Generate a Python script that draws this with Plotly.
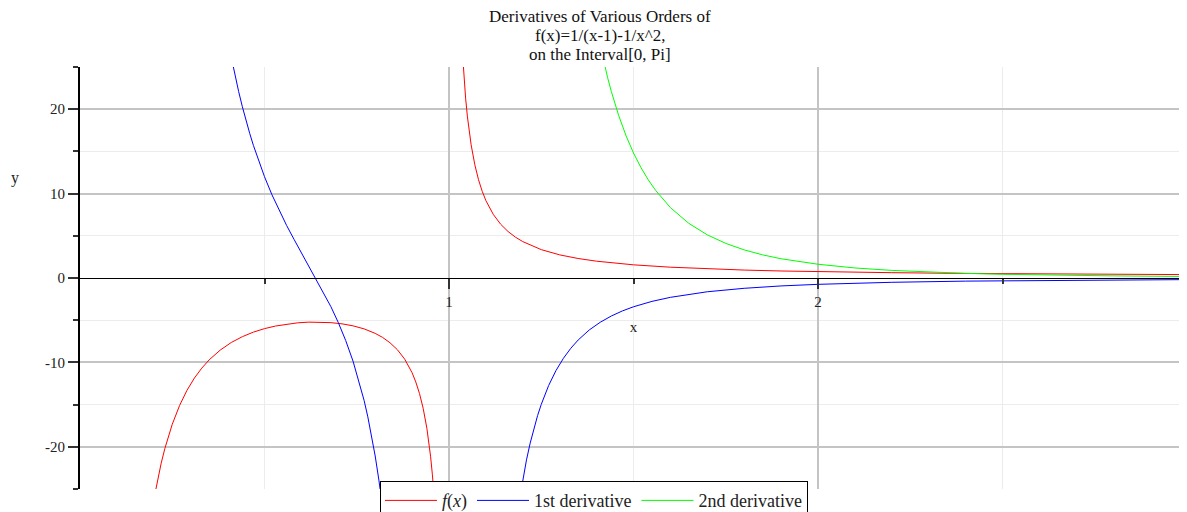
import plotly.graph_objects as go

# ---- data ----
f_left_x = [0.200, 0.205, 0.21, 0.22, 0.23, 0.24, 0.25, 0.27, 0.29, 0.31, 0.33, 0.35, 0.38, 0.41,
            0.44, 0.47, 0.50, 0.53, 0.56, 0.59, 0.62, 0.65, 0.68, 0.71, 0.74, 0.77, 0.80, 0.82,
            0.84, 0.86, 0.88, 0.90, 0.91, 0.92, 0.93, 0.94, 0.945, 0.95, 0.955, 0.958, 0.96]
f_left_y = [-26.25, -25.05, -23.94, -21.94, -20.20, -18.68, -17.33, -15.09, -13.30, -11.86, -10.68,
            -9.70, -8.54, -7.64, -6.95, -6.41, -6.00, -5.69, -5.46, -5.31, -5.23, -5.22, -5.29,
            -5.43, -5.67, -6.03, -6.56, -7.04, -7.67, -8.49, -9.62, -11.23, -12.32, -13.68,
            -15.44, -17.80, -19.30, -21.11, -23.32, -24.90, -26.09]
f_right_x = [1.035, 1.04, 1.045, 1.05, 1.06, 1.07, 1.08, 1.09, 1.10, 1.12, 1.14, 1.16, 1.18, 1.20,
             1.25, 1.30, 1.35, 1.40, 1.50, 1.60, 1.70, 1.80, 1.90, 2.00, 2.20, 2.40, 2.60, 2.80,
             3.00, 3.1416]
f_right_y = [27.64, 24.08, 21.31, 19.09, 15.78, 13.41, 11.64, 10.27, 9.17, 7.54, 6.37, 5.51, 4.84,
             4.31, 3.36, 2.74, 2.31, 1.99, 1.56, 1.28, 1.08, 0.94, 0.83, 0.75, 0.63, 0.54, 0.48,
             0.43, 0.39, 0.37]

d1_left_x = [0.41, 0.415, 0.42, 0.43, 0.44, 0.45, 0.46, 0.47, 0.48, 0.49, 0.50, 0.52, 0.54, 0.56,
             0.58, 0.60, 0.62, 0.64, 0.66, 0.68, 0.70, 0.72, 0.74, 0.76, 0.77, 0.78, 0.79, 0.80,
             0.81, 0.815, 0.82]
d1_left_y = [26.15, 25.06, 24.02, 22.08, 20.29, 18.64, 17.12, 15.70, 14.39, 13.16, 12.00, 9.88,
             7.98, 6.22, 4.58, 3.01, 1.47, -0.09, -1.69, -3.40, -5.28, -7.40, -9.86, -12.81,
             -14.52, -16.45, -18.62, -21.09, -23.94, -25.52, -27.24]
d1_right_x = [1.19, 1.195, 1.20, 1.21, 1.22, 1.23, 1.24, 1.25, 1.27, 1.29, 1.31, 1.33, 1.35, 1.38,
              1.41, 1.44, 1.47, 1.50, 1.55, 1.60, 1.65, 1.70, 1.80, 1.90, 2.00, 2.20, 2.40, 2.60,
              2.80, 3.00, 3.1416]
d1_right_y = [-26.51, -25.13, -23.84, -21.55, -19.56, -17.83, -16.31, -14.98, -12.74, -10.96,
              -9.52, -8.33, -7.35, -6.16, -5.24, -4.50, -3.90, -3.41, -2.77, -2.29, -1.92, -1.63,
              -1.22, -0.94, -0.75, -0.51, -0.37, -0.28, -0.22, -0.18, -0.15]

d2_right_x = [1.41, 1.42, 1.43, 1.44, 1.45, 1.46, 1.48, 1.50, 1.52, 1.54, 1.56, 1.58, 1.60, 1.65,
              1.70, 1.75, 1.80, 1.85, 1.90, 2.00, 2.10, 2.20, 2.30, 2.40, 2.50, 2.60, 2.80, 3.00,
              3.1416]
d2_right_y = [27.50, 25.52, 23.72, 22.08, 20.59, 19.23, 16.83, 14.81, 13.10, 11.63, 10.38, 9.29,
              8.34, 6.47, 5.11, 4.10, 3.33, 2.74, 2.28, 1.63, 1.19, 0.90, 0.70, 0.55, 0.44, 0.36,
              0.25, 0.18, 0.14]

y_ticks = [-20, -10, 0, 10, 20]
y_tick_labels = ["-20", "-10", "0", "10", "20"]
x_ticks = [1, 2, 3]
x_tick_labels = ["1", "2", "3"]

title_lines = ["Derivatives of Various Orders of", "f(x)=1/(x-1)-1/x^2,", "on the Interval[0, Pi]"]
names = ["<i>f</i>(<i>x</i>)", "1st derivative", "2nd derivative"]
colors = ["#ff0000", "#0000ff", "#00ff00"]

SERIF = "Liberation Serif, Times New Roman, serif"

fig = go.Figure()
fig.add_trace(go.Scatter(x=f_left_x, y=f_left_y, mode="lines", line=dict(color=colors[0], width=1),
                         name=names[0], legendgroup="f"))
fig.add_trace(go.Scatter(x=f_right_x, y=f_right_y, mode="lines", line=dict(color=colors[0], width=1),
                         name=names[0], legendgroup="f", showlegend=False))
fig.add_trace(go.Scatter(x=d1_left_x, y=d1_left_y, mode="lines", line=dict(color=colors[1], width=1),
                         name=names[1], legendgroup="d1"))
fig.add_trace(go.Scatter(x=d1_right_x, y=d1_right_y, mode="lines", line=dict(color=colors[1], width=1),
                         name=names[1], legendgroup="d1", showlegend=False))
fig.add_trace(go.Scatter(x=d2_right_x, y=d2_right_y, mode="lines", line=dict(color=colors[2], width=1),
                         name=names[2], legendgroup="d2"))

# page body adds an 8px offset; figure is sized so that it ends at the window edge
fig.update_layout(
    width=1179, height=504,
    margin=dict(l=72, r=0, t=59, b=23, autoexpand=False),
    paper_bgcolor="white", plot_bgcolor="white",
    font=dict(family=SERIF, size=15, color="#222"),
    showlegend=True,
    legend=dict(orientation="h", x=0.271, xanchor="left", y=0.0185, yanchor="top",
                bordercolor="#000", borderwidth=1, bgcolor="white",
                font=dict(family=SERIF, size=18, color="#222"),
                itemwidth=52, tracegroupgap=0),
    xaxis=dict(range=[0, 3.0], anchor="free", position=0.5,
               tickvals=x_ticks, ticktext=x_tick_labels, ticks="outside", ticklen=10,
               tickcolor="#333", tickwidth=2,
               showline=True, linecolor="#000", linewidth=1,
               showgrid=True, gridcolor="#c4c4c4", gridwidth=2, zeroline=False,
               minor=dict(tick0=0.5, dtick=1, ticks="outside", ticklen=5, tickcolor="#333",
                          showgrid=True, gridcolor="#ececec", gridwidth=1),
               title=dict(text="x", standoff=12, font=dict(family=SERIF, size=15)),
               tickfont=dict(family=SERIF, size=15)),
    yaxis=dict(range=[-25, 25], tickvals=y_ticks, ticktext=y_tick_labels,
               ticks="outside", ticklen=10, tickcolor="#333", tickwidth=2,
               showline=True, linecolor="#000", linewidth=2,
               showgrid=True, gridcolor="#c4c4c4", gridwidth=2,
               zeroline=True, zerolinecolor="#000", zerolinewidth=1,
               minor=dict(tick0=5, dtick=10, ticks="outside", ticklen=5, tickcolor="#333",
                          showgrid=True, gridcolor="#ececec", gridwidth=1),
               tickfont=dict(family=SERIF, size=15)),
)

for txt, ty in zip(title_lines, [1.1185, 1.0758, 1.0308]):
    fig.add_annotation(text=txt, xref="paper", yref="paper", x=0.4697, y=ty,
                       xanchor="center", yanchor="middle", showarrow=False,
                       font=dict(family=SERIF, size=17, color="#111"))

fig.add_annotation(text="y", xref="paper", yref="paper", x=-0.0587, y=0.737,
                   xanchor="center", yanchor="middle", showarrow=False,
                   font=dict(family=SERIF, size=16, color="#222"))

fig.write_html("out.html")
